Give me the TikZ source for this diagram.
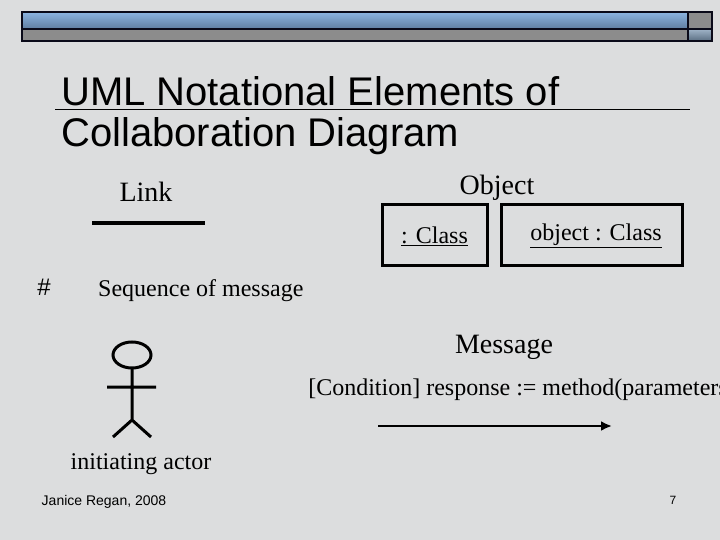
\documentclass[tikz,border=0pt]{standalone}
\usepackage{fontspec}
\setmainfont{Liberation Serif}
\newfontfamily\arialf{Liberation Sans}
\usetikzlibrary{arrows.meta}
\definecolor{bg}{RGB}{220,221,222}
\definecolor{barg}{RGB}{140,140,140}
\definecolor{bluet}{RGB}{140,180,225}
\definecolor{blueb}{RGB}{95,125,160}
\definecolor{sbt}{RGB}{160,180,200}
\definecolor{sbb}{RGB}{90,110,130}
\definecolor{edge}{RGB}{10,10,25}
\begin{document}
\begin{tikzpicture}[x=1pt,y=-1pt,
  ser/.style={inner sep=0,font=\fontsize{24}{28}\selectfont},
  big/.style={inner sep=0,font=\fontsize{28}{32}\selectfont},
  objbox/.style={draw,line width=3pt}]
\useasboundingbox (0,0) rectangle (720,540);
\fill[bg] (0,0) rectangle (720,540);
% top bar
\shade[top color=bluet,bottom color=blueb] (22,12) rectangle (688,29);
\fill[barg] (688,12) rectangle (712,29);
\fill[barg] (22,29) rectangle (688,41);
\shade[top color=sbt,bottom color=sbb] (688,29) rectangle (712,41);
\draw[line width=1.5pt,edge] (22,12) rectangle (712,41) (22,29) -- (712,29) (688,12) -- (688,41);
% title
\node[anchor=west,inner sep=0,font=\arialf\fontsize{40}{46}\selectfont] (t1) at (61,91) {UML Notational Elements of};
\node[anchor=west,inner sep=0,font=\arialf\fontsize{40}{46}\selectfont] (t2) at (61,136) {Collaboration Diagram};
\draw[line width=1pt] (55,110) -- (690,110);
% link
\node[big] (link) at (146,192) {Link};
\coordinate (la) at (92,223); \coordinate (lb) at (205,223);
\draw[line width=3.5pt] (la) -- (lb);
% object
\node[big] (obj) at (497,188) {Object};
\node[objbox,minimum width=105,minimum height=61] (b1) at (434.5,235) {};
\node[ser] (c1) at (434.5,236) {\underline{: Class}};
\node[objbox,minimum width=181,minimum height=60] (b2) at (591.5,235) {};
\node[ser] (c2) at (596,236) {\underline{object : Class}};
% sequence
\node[inner sep=0,font=\arialf\fontsize{24}{28}\selectfont] (hash) at (44,287) {\#};
\node[ser,anchor=west] (seq) at (98,291) {Sequence of message};
% message
\node[big] (msg) at (504,347) {Message};
\node[ser] (cond) at (522,390) {[Condition] response := method(parameters)};
\coordinate (ma) at (378,426); \coordinate (mb) at (612,426);
\draw[line width=2.5pt,-{Latex[length=11pt,width=10pt]}] (ma) -- (mb);
% actor
\draw[line width=3pt] (132,355) ellipse (19 and 13);
\draw[line width=3pt] (132,368) -- (132,420) (107,387) -- (156,387)
  (113,437) -- (132,420) -- (151,437);
\node[ser] (act) at (141,464) {initiating actor};
% footer
\node[inner sep=0,font=\arialf\fontsize{14}{16}\selectfont] (ft) at (104,502) {Janice Regan, 2008};
\node[inner sep=0,font=\arialf\fontsize{12}{14}\selectfont] (pg) at (673,500) {7};
\end{tikzpicture}
\end{document}
